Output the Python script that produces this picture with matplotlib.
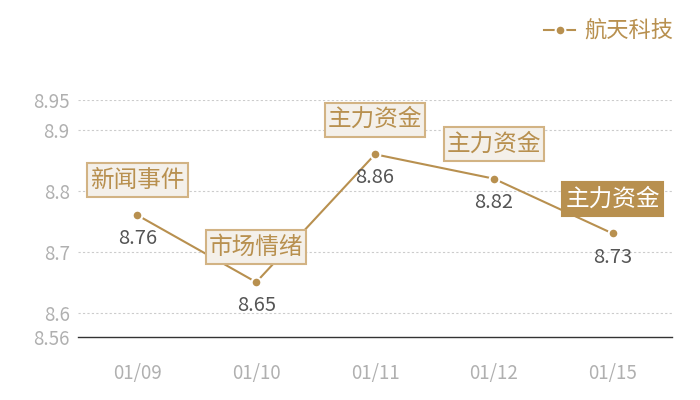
import matplotlib
matplotlib.use('Agg')
import matplotlib.pyplot as plt
from matplotlib.patches import Rectangle

plt.rcParams['font.family'] = ['Noto Sans CJK SC', 'DejaVu Sans']

dates = ['01/09', '01/10', '01/11', '01/12', '01/15']
prices = [8.76, 8.65, 8.86, 8.82, 8.73]
tags = ['新闻事件', '市场情绪', '主力资金', '主力资金', '主力资金']
highlight = [False, False, False, False, True]
yticks = [8.56, 8.6, 8.7, 8.8, 8.9, 8.95]
series_name = '航天科技'

gold = '#b8904f'
pale = '#f4f0ea'
edge = '#d2b384'

def main():
    fig = plt.figure(figsize=(7, 4), dpi=100)
    ax = fig.add_axes([78 / 700, 1 - 337 / 400, 594 / 700, 237.5 / 400])

    x = list(range(len(dates)))
    ax.plot(x, prices, color=gold, lw=1.5, marker='o', ms=7,
            mfc=gold, mec='white', mew=1.5, label=series_name, zorder=3)

    # value labels below, tags above
    tag_texts = []
    for i, v in enumerate(prices):
        ax.annotate('{:.2f}'.format(v), (i, v), xytext=(0, -17),
                    textcoords='offset points', ha='center', va='center',
                    fontsize=14.5, color='#555555', zorder=4)
        tc = 'white' if highlight[i] else gold
        t = ax.annotate(tags[i], (i, v), xytext=(0, 25),
                        textcoords='offset points', ha='center', va='center',
                        fontsize=17, color=tc, zorder=6)
        tag_texts.append(t)

    ax.set_xlim(-0.5, len(dates) - 0.5)
    ax.set_ylim(8.56, 8.95)
    ax.set_xticks(x)
    ax.set_xticklabels(dates)
    ax.set_yticks(yticks)
    ax.set_yticklabels([str(t) for t in yticks])
    ax.tick_params(length=0, labelsize=13.5, colors='#b0b0b0')
    ax.tick_params(axis='x', pad=19)
    ax.tick_params(axis='y', pad=6)

    for t in yticks[1:]:
        ax.axhline(t, color='#cccccc', lw=0.8, ls=(0, (2, 2)), zorder=1)
    for s in ['top', 'right', 'left']:
        ax.spines[s].set_visible(False)
    ax.spines['bottom'].set_color('#333333')
    ax.spines['bottom'].set_linewidth(1)

    leg = fig.legend(loc='upper right', bbox_to_anchor=(0.99, 1.0),
                     frameon=False, fontsize=16, handlelength=1.4,
                     handletextpad=0.4)
    for t in leg.get_texts():
        t.set_color(gold)

    # boxes behind the tags, sized in pixels
    fig.canvas.draw()
    r = fig.canvas.get_renderer()
    for i, t in enumerate(tag_texts):
        bb = t.get_window_extent(r)
        cx = (bb.x0 + bb.x1) / 2
        cy = (bb.y0 + bb.y1) / 2
        w = bb.width + 6
        h = 34
        if highlight[i]:
            fc, ec = gold, gold
        else:
            fc, ec = pale, edge
        rect = Rectangle((cx - w / 2, cy - h / 2), w, h, transform=None,
                         fc=fc, ec=ec, lw=1.5, zorder=5)
        ax.add_artist(rect)

    fig.savefig('out.png', dpi=100)

if __name__ == '__main__':
    main()
